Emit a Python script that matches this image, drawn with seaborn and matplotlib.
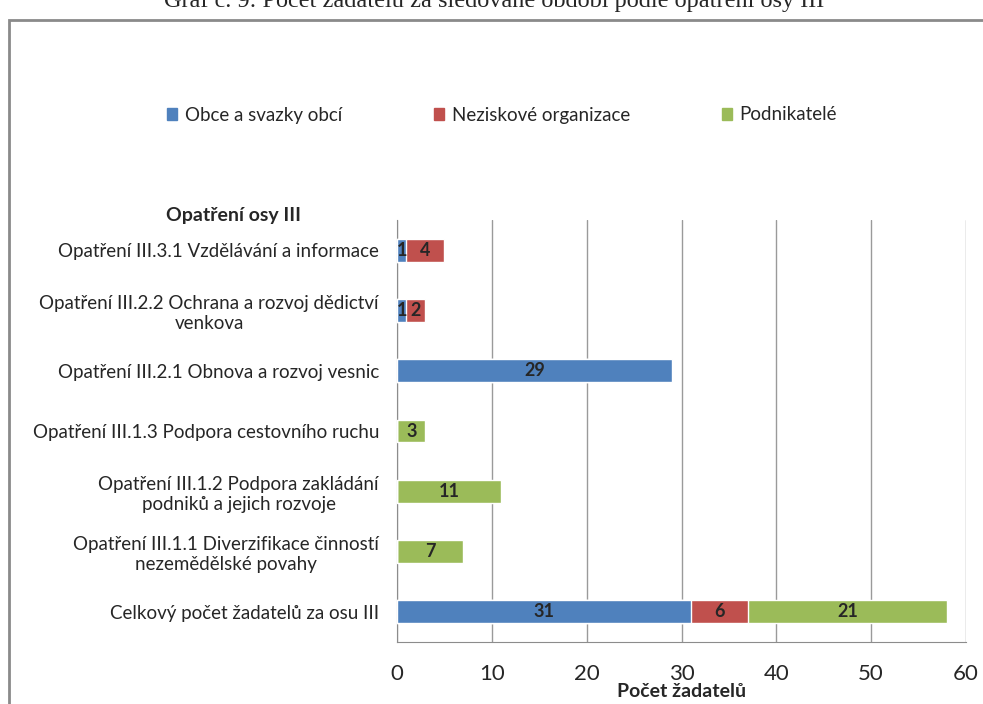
import pandas as pd
import seaborn as sns
import matplotlib.pyplot as plt
from matplotlib.patches import Rectangle, Patch

# Data
categories = [
    "Opatření III.3.1 Vzdělávání a informace",
    "Opatření III.2.2 Ochrana a rozvoj dědictví\nvenkova",
    "Opatření III.2.1 Obnova a rozvoj vesnic",
    "Opatření III.1.3 Podpora cestovního ruchu",
    "Opatření III.1.2 Podpora zakládání\npodniků a jejich rozvoje",
    "Opatření III.1.1 Diverzifikace činností\nnezemědělské povahy",
    "Celkový počet žadatelů za osu III",
]
obce = [1, 1, 29, 0, 0, 0, 31]
neziskove = [4, 2, 0, 0, 0, 0, 6]
podnikatele = [0, 0, 0, 3, 11, 7, 21]
series_names = ["Obce a svazky obcí", "Neziskové organizace", "Podnikatelé"]
colors = ["#4F81BD", "#C0504D", "#9BBB59"]

df = pd.DataFrame({"opatreni": categories, "obce": obce,
                   "nezisk": neziskove, "podnik": podnikatele})
df["c1"] = df["obce"]
df["c2"] = df["c1"] + df["nezisk"]
df["c3"] = df["c2"] + df["podnik"]

sns.set_style("white")
plt.rcParams["font.family"] = ["Lato", "DejaVu Sans"]

fig = plt.figure(figsize=(9.83, 7.04), dpi=100, facecolor="white")
ax = fig.add_axes([397 / 983, 1 - 642 / 704, 569 / 983, 422 / 704])

# stacked bars: draw cumulative totals from the back to the front
for col, c in zip(["c3", "c2", "c1"], colors[::-1]):
    sns.barplot(data=df, y="opatreni", x=col, orient="h", color=c,
                width=0.38, order=categories, ax=ax, saturation=1, zorder=3)

# segment labels
for val_col, cum_col in [("obce", "c1"), ("nezisk", "c2"), ("podnik", "c3")]:
    for i, (v, cum) in enumerate(zip(df[val_col], df[cum_col])):
        if v > 0:
            ax.text(cum - v / 2, i, str(v), ha="center", va="center",
                    fontsize=13, fontweight="bold", zorder=4)

ax.set_xlim(0, 60)
ax.set_xticks(range(0, 61, 10))
ax.xaxis.grid(True, color="#9a9a9a", linewidth=1, zorder=0)
ax.set_axisbelow(True)
ax.tick_params(axis="x", length=5, color="#8c8c8c", labelsize=16, pad=11)
ax.tick_params(axis="y", which="major", length=0, labelsize=13.5, pad=13)
ax.set_yticks([i - 0.5 for i in range(len(categories) + 1)], minor=True)
ax.tick_params(axis="y", which="minor", length=5, color="#8c8c8c")
for lab in ax.get_yticklabels():
    lab.set_multialignment("center")
for s in ["top", "right"]:
    ax.spines[s].set_visible(False)
for s in ["left", "bottom"]:
    ax.spines[s].set_color("#8c8c8c")
ax.set_ylabel("")
ax.set_xlabel("Počet žadatelů", fontsize=14, fontweight="bold", labelpad=-1)

fig.text(234 / 983, 1 - 215 / 704, "Opatření osy III", ha="center",
         va="center", fontsize=14, fontweight="bold")

handles = [Patch(color=c) for c in colors]
fig.legend(handles, series_names, loc="center", ncol=3,
           bbox_to_anchor=(502 / 983, 1 - 115 / 704), frameon=False,
           fontsize=13.5, handlelength=0.55, handleheight=0.55,
           handletextpad=0.4, columnspacing=4.9)

# chart frame and clipped caption
fig.patches.append(Rectangle((9 / 983, -0.05), 1.1, 1 - 20 / 704 + 0.05,
                             transform=fig.transFigure, fill=False,
                             edgecolor="#8a8a8a", linewidth=2))
fig.text(494 / 983, 1 - 7 / 704,
         "Graf č. 9: Počet žadatelů za sledované období podle opatření osy III",
         ha="center", va="baseline", fontsize=17.5,
         family=["Liberation Serif", "DejaVu Serif"])

fig.savefig("out.png", dpi=100, facecolor="white")
